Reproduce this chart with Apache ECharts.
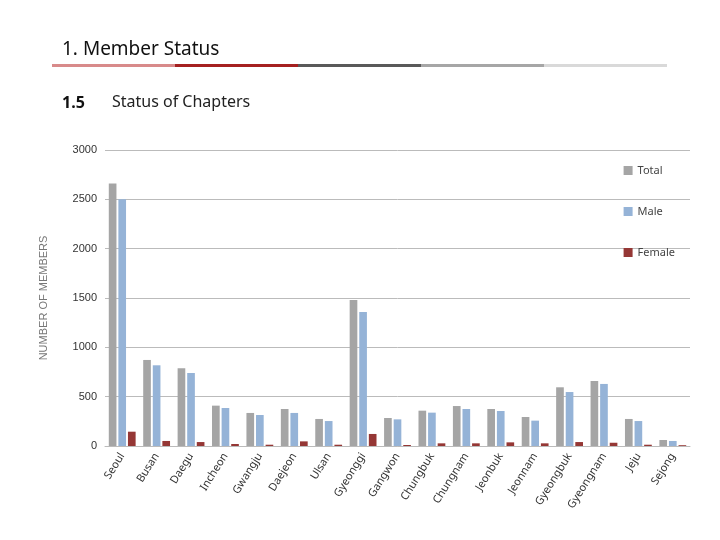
<!DOCTYPE html>
<html><head><meta charset="utf-8">
<script src="https://cdn.jsdelivr.net/npm/echarts@6/dist/echarts.min.js"></script>
<style>body{margin:0;background:#fff}#c{width:720px;height:540px}</style>
</head><body><div id="c"></div>
<script>
const categories=["Seoul","Busan","Daegu","Incheon","Gwangju","Daejeon","Ulsan","Gyeonggi","Gangwon","Chungbuk","Chungnam","Jeonbuk","Jeonnam","Gyeongbuk","Gyeongnam","Jeju","Sejong"];
const total=[2660,872,788,409,335,375,274,1480,284,358,405,375,294,595,659,274,61];
const male=[2500,818,740,385,314,335,253,1359,270,338,375,355,257,547,629,253,51];
const female=[145,51,40,20,13,47,13,122,10,27,27,37,27,40,33,13,8];
const yTicks=[0,500,1000,1500,2000,2500,3000];
const segColors=['#d88a8a','#a52020','#595959','#a6a6a6','#d9d9d9'];
const graphics=[
 {type:'text',left:62,top:40,style:{text:'1. Member Status',font:'19px "Noto Sans"',fill:'#111'}},
 {type:'text',left:62,top:95,style:{text:'1.5',font:'bold 16px "Noto Sans"',fill:'#111'}},
 {type:'text',left:112,top:94,style:{text:'Status of Chapters',font:'16px "Noto Sans"',fill:'#222'}}
];
segColors.forEach((c,i)=>graphics.push({type:'rect',shape:{x:52+i*123,y:64,width:123,height:3},style:{fill:c}}));
const chart=echarts.init(document.getElementById('c'));
chart.setOption({
 animation:false,
 graphic:graphics,
 legend:{orient:'vertical',right:40,top:160,itemGap:30,itemWidth:9,itemHeight:9,icon:'rect',
   textStyle:{fontSize:11,color:'#444',fontFamily:'Noto Sans'},data:['Total','Male','Female']},
 grid:{left:105,right:30,top:150,bottom:94},
 xAxis:{type:'category',data:categories,axisTick:{show:false},axisLine:{lineStyle:{color:'#bbb'}},
   axisLabel:{rotate:58,color:'#333',fontSize:11,interval:0,fontFamily:'Noto Sans'}},
 yAxis:{type:'value',min:0,max:3000,interval:500,name:'NUMBER OF MEMBERS',nameLocation:'middle',nameGap:56,
   nameTextStyle:{color:'#777',fontSize:11},
   axisLabel:{color:'#333',fontSize:11,formatter:v=>yTicks.includes(v)?String(v):''},
   splitLine:{lineStyle:{color:'#bbb'}}},
 series:[
  {name:'Total',type:'bar',data:total,itemStyle:{color:'#a5a5a5'},barGap:'25%',barCategoryGap:'22%'},
  {name:'Male',type:'bar',data:male,itemStyle:{color:'#95b3d7'}},
  {name:'Female',type:'bar',data:female,itemStyle:{color:'#953735'}}
 ]
});
</script></body></html>
